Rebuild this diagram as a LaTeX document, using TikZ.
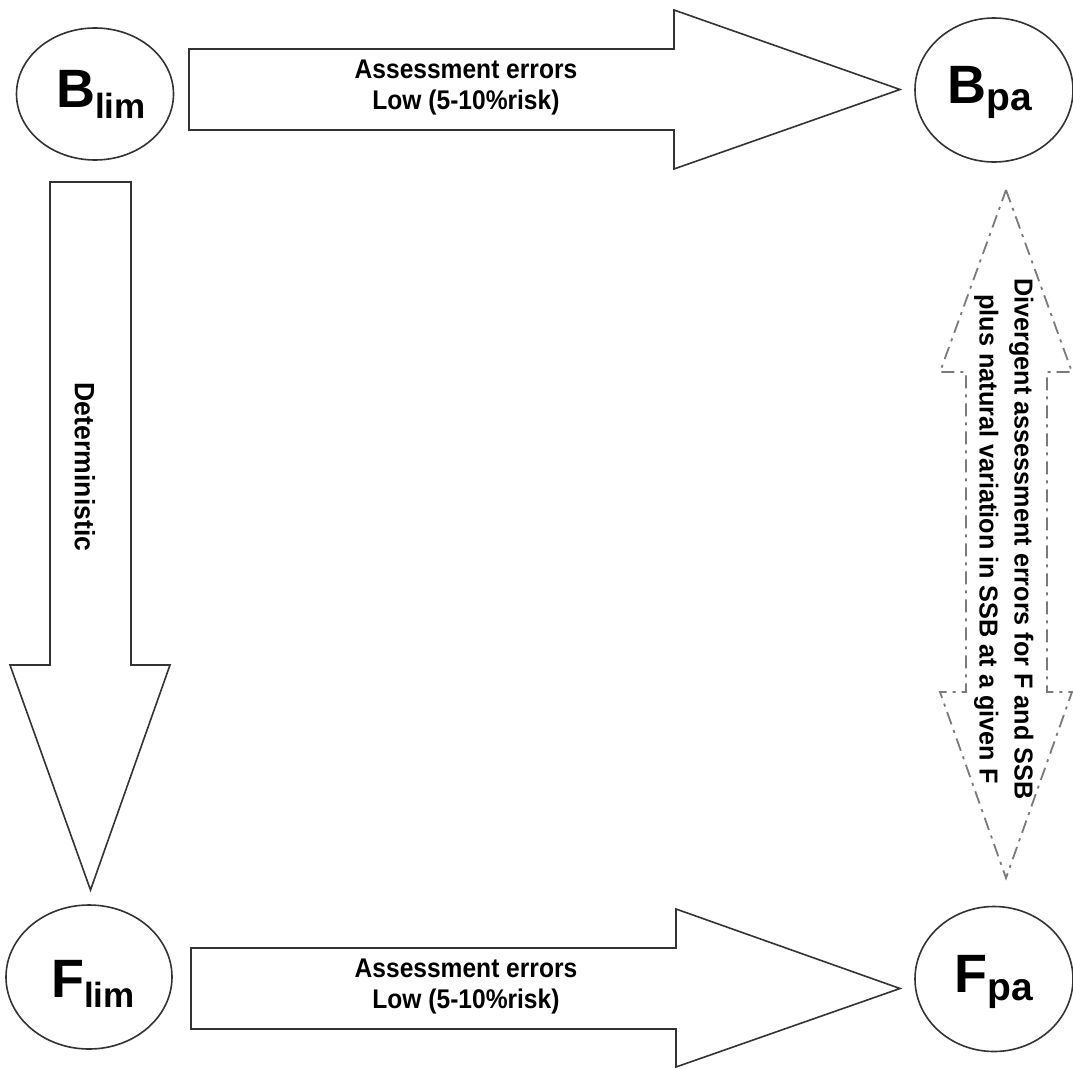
\documentclass[tikz,border=0pt]{standalone}
\usepackage{fontspec}
\setmainfont{Liberation Sans}
\usetikzlibrary{shapes.geometric}
\definecolor{outl}{HTML}{333333}
\definecolor{dgray}{HTML}{7A7A7A}
\tikzset{
  refnode/.style={ellipse, draw=outl, line width=1.6pt, inner sep=0pt, fill=white},
  blockarrow/.style={draw=outl, line width=1.6pt, fill=white, line join=miter},
  dasharrow/.style={draw=dgray, line width=1.8pt, dash pattern=on 13pt off 6pt on 3pt off 6pt},
  lbl/.style={font=\bfseries\fontsize{27}{31}\selectfont, align=center, inner sep=0pt},
  bigsym/.style={font=\bfseries\fontsize{54}{54}\selectfont, inner sep=0pt}
}
\newcommand{\symb}[4]{#1\raisebox{-#4pt}{\fontsize{#3}{#3}\selectfont #2}}
\newcommand{\narrow}[2]{\scalebox{#1}[1]{#2}}
\begin{document}
\begin{tikzpicture}[x=1pt,y=-1pt]
\useasboundingbox[fill=white] (0,0) rectangle (1073,1068);

% reference point nodes
\node[refnode, minimum width=157pt, minimum height=132pt] (blim) at (95,94) {};
\node[refnode, minimum width=158pt, minimum height=144pt] (bpa) at (994,90) {};
\node[refnode, minimum width=166pt, minimum height=144pt] (flim) at (89,977) {};
\node[refnode, minimum width=158pt, minimum height=145pt] (fpa) at (994,979) {};

\node[bigsym, anchor=base west] (blimtxt) at (56,107) {\symb{B}{lim}{35}{11}};
\node[bigsym, anchor=base west] (bpatxt) at (947,103) {\symb{B}{pa}{39}{7}};
\node[bigsym, anchor=base west] (flimtxt) at (51,997) {\symb{F}{lim}{35}{10}};
\node[bigsym, anchor=base west] (fpatxt) at (954,992) {\symb{F}{pa}{39}{8}};

% block arrows
\draw[blockarrow] (189,49) -- (674,49) -- (674,10) -- (900,89.5) -- (674,169) -- (674,130) -- (189,130) -- cycle;
\draw[blockarrow] (191,948) -- (676,948) -- (676,909) -- (900,988.5) -- (676,1067) -- (676,1029) -- (191,1029) -- cycle;
\draw[blockarrow] (50,182) -- (131,182) -- (131,665) -- (170,665) -- (90.5,890) -- (10,665) -- (50,665) -- cycle;

% dashed double arrow
\draw[dasharrow] (1006,190) -- (1072,372) -- (1047,372) -- (1047,692) -- (1072,692) -- (1006,878) -- (940,692) -- (966,692) -- (966,372) -- (940,372) -- cycle;

% labels
\node[lbl] (toplbl) at (466,88) {\narrow{0.91}{\begin{tabular}{@{}c@{}}Assessment errors\\Low (5-10\%risk)\end{tabular}}};
\node[lbl] (botlbl) at (466,987) {\narrow{0.91}{\begin{tabular}{@{}c@{}}Assessment errors\\Low (5-10\%risk)\end{tabular}}};
\node[lbl, rotate=-90, font=\bfseries\fontsize{28}{31}\selectfont] (detlbl) at (85,467) {\narrow{0.95}{Deterministic}};
\node[lbl, rotate=-90, font=\bfseries\fontsize{26}{35}\selectfont] (divlbl) at (1004,539) {\narrow{0.97}{\begin{tabular}{@{}c@{}}Divergent assessment errors for F and SSB\\plus natural variation in SSB at a given F\end{tabular}}};
\end{tikzpicture}
\end{document}
